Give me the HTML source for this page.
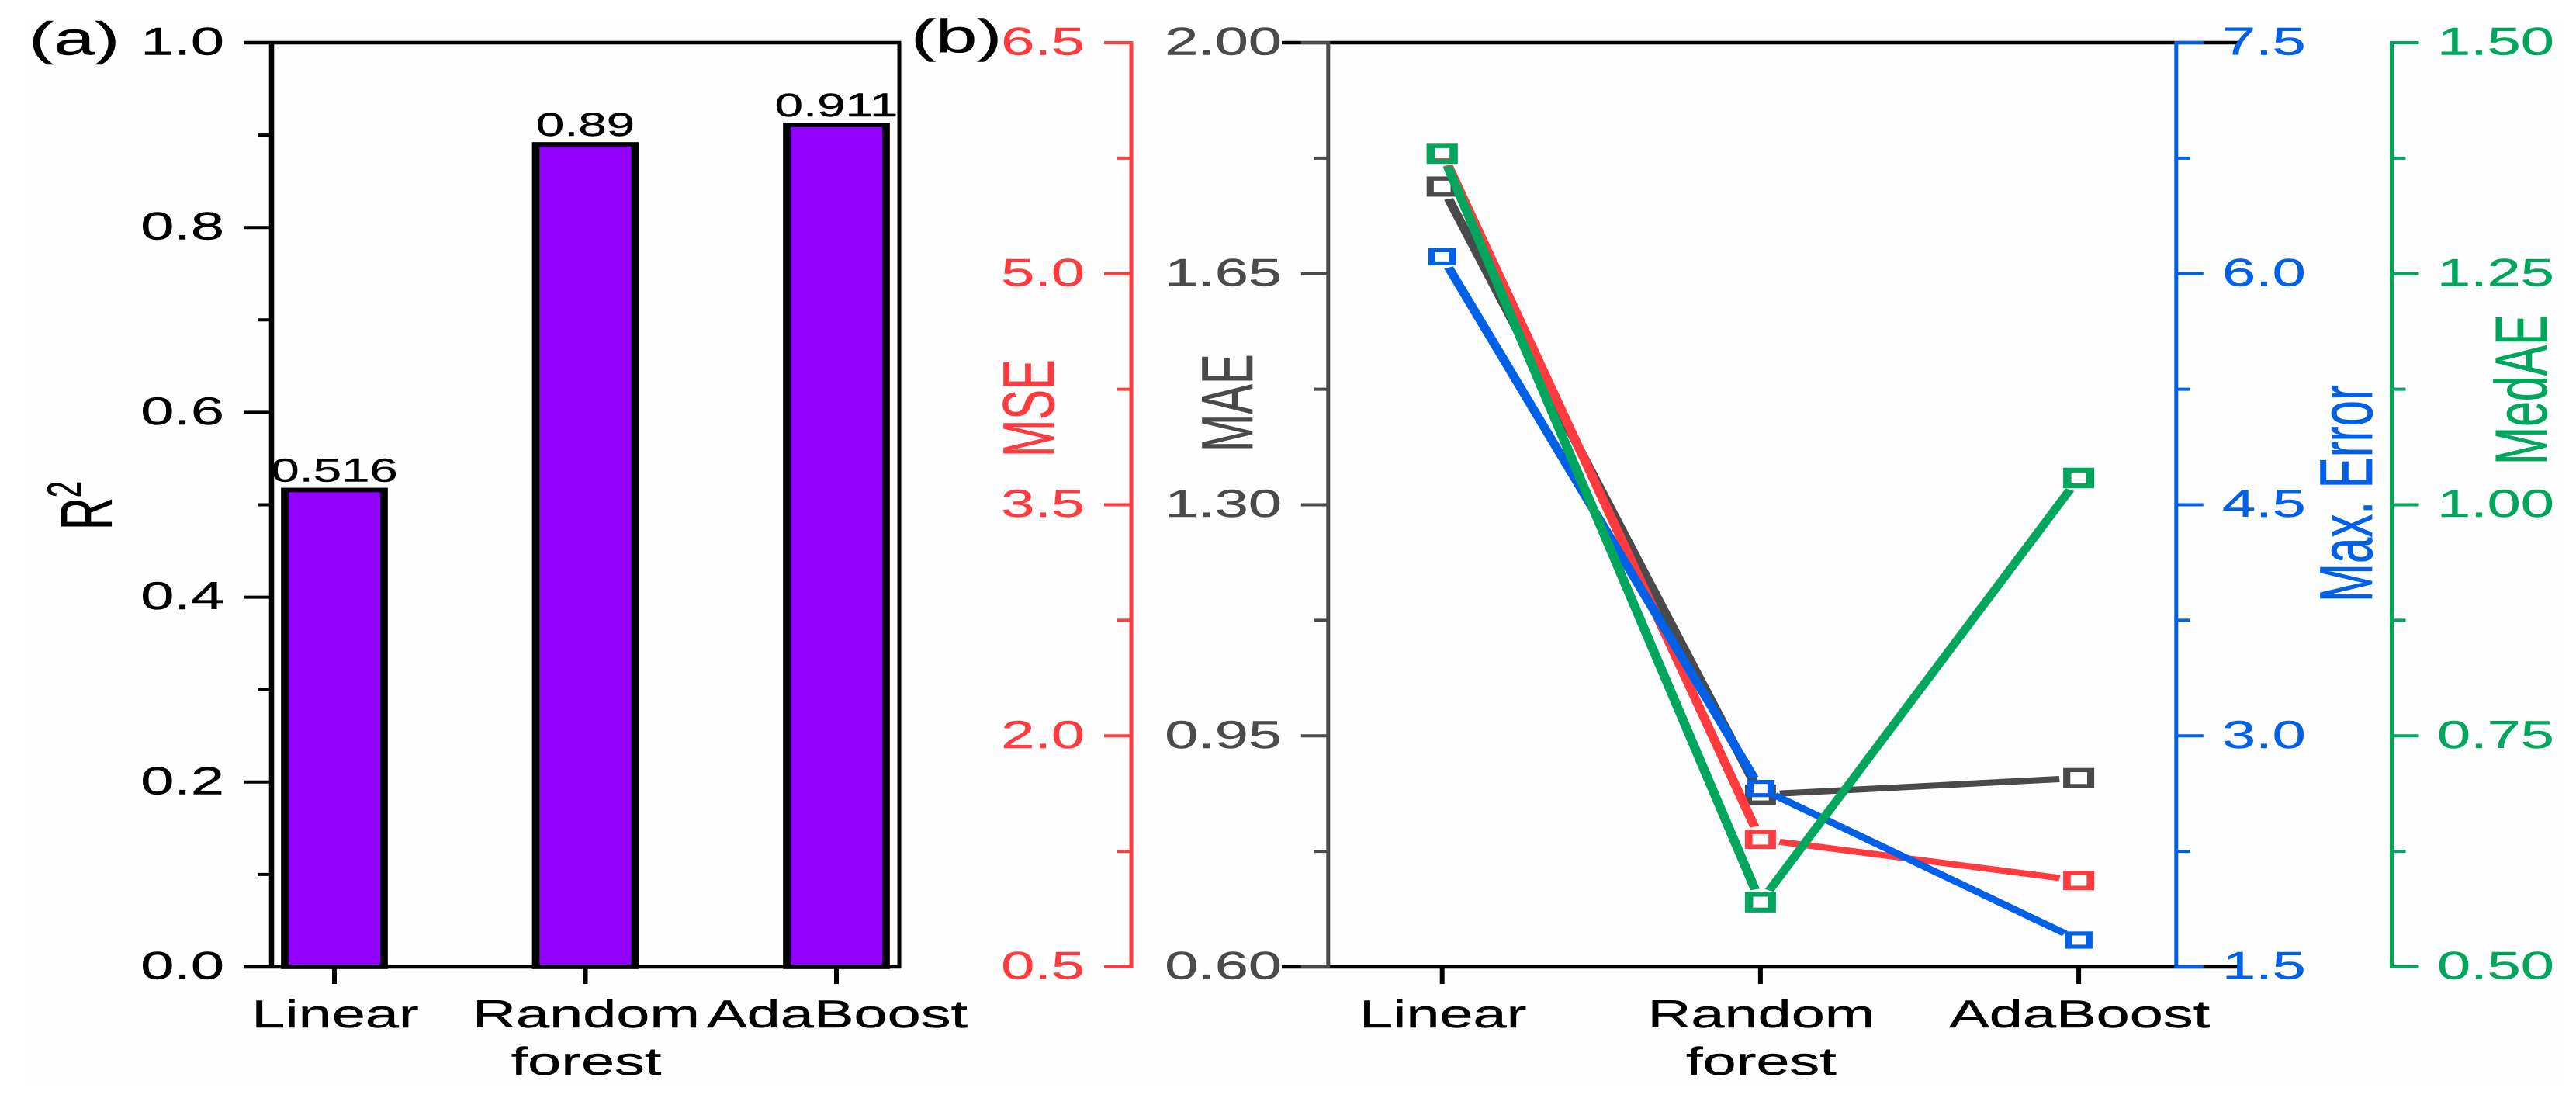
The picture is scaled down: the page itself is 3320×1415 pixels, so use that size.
<!DOCTYPE html>
<html lang="en">
<head>
<meta charset="utf-8">
<title>R2 and error metrics by model</title>
<style>
html,body{margin:0;padding:0;background:#fff;width:3320px;height:1415px;overflow:hidden}
svg{display:block}
text{font-family:"Liberation Sans",Arial,sans-serif}
</style>
</head>
<body>
<svg id="figure" xmlns="http://www.w3.org/2000/svg" width="3320" height="1415" viewBox="0 0 3320 1415">
  <rect x="0" y="0" width="3320" height="1415" fill="#ffffff"/>
  <rect x="38" y="23" width="3262" height="1377" fill="#fefefe"/>
  <g id="panel-a"></g>
  <g id="panel-b"></g>
  <text transform="translate(37,70.7) scale(1.6,1)" font-size="60" fill="#000" stroke="#000" stroke-width="0.4">(a)</text>
  <text transform="translate(1174,67) scale(1.6,1)" font-size="60" fill="#000" stroke="#000" stroke-width="0.4">(b)</text>
  <text transform="translate(144,683) scale(1.61,1) rotate(-90)" font-size="58" fill="#000" stroke="#000" stroke-width="0.4">R<tspan dy="-25" font-size="38">2</tspan></text>
  <text transform="translate(1358,589) scale(1.61,1) rotate(-90)" font-size="58" fill="#ff3b3f" stroke="#ff3b3f" stroke-width="0.4">MSE</text>
  <text transform="translate(1614,582) scale(1.61,1) rotate(-90)" font-size="58" fill="#4a4a4a" stroke="#4a4a4a" stroke-width="0.4">MAE</text>
  <text transform="translate(3057,776) scale(1.61,1) rotate(-90)" font-size="60" fill="#0061e8" stroke="#0061e8" stroke-width="0.4">Max. Error</text>
  <text transform="translate(3282,599) scale(1.61,1) rotate(-90)" font-size="59" fill="#00a65c" stroke="#00a65c" stroke-width="0.4">MedAE</text>
</svg>
<script>
// ---- data ----
const categoryLines = [['Linear'], ['Random', 'forest'], ['AdaBoost']];
const r2Values = [0.516, 0.89, 0.911];
const r2Ticks = ['0.0', '0.2', '0.4', '0.6', '0.8', '1.0'];
const mseValues = [5.786, 1.328, 1.061];
const maeValues = [1.782, 0.861, 0.886];
const maxErrorValues = [6.11, 2.658, 1.674];
const medaeValues = [1.38, 0.57, 1.029];
const mseTicks = ['0.5', '2.0', '3.5', '5.0', '6.5'];
const maeTicks = ['0.60', '0.95', '1.30', '1.65', '2.00'];
const maxErrorTicks = ['1.5', '3.0', '4.5', '6.0', '7.5'];
const medaeTicks = ['0.50', '0.75', '1.00', '1.25', '1.50'];

// ---- layout ----
const NS = 'http://www.w3.org/2000/svg';
const TOP = 55, BOTTOM = 1246, STRETCH = 1.7, LINE_STRETCH = 1.55;
const panelA = document.getElementById('panel-a');
const panelB = document.getElementById('panel-b');

function yScale(ticks) {
  const lo = parseFloat(ticks[0]), hi = parseFloat(ticks[ticks.length - 1]);
  return v => BOTTOM - (v - lo) / (hi - lo) * (BOTTOM - TOP);
}
function xA(i) { return 431 + 323.5 * i; }
function xB(i) { return 1858.7 + 410.2 * i; }

function make(parent, tag, attrs) {
  const el = document.createElementNS(NS, tag);
  for (const k in attrs) el.setAttribute(k, attrs[k]);
  parent.appendChild(el);
  return el;
}
function hLine(parent, x1, x2, y, color, w) {
  return make(parent, 'line', {x1: x1, x2: x2, y1: y, y2: y, stroke: color, 'stroke-width': w});
}
function vLine(parent, x, y1, y2, color, w) {
  return make(parent, 'line', {x1: x, x2: x, y1: y1, y2: y2, stroke: color, 'stroke-width': w});
}
function label(parent, x, y, str, size, sx, anchor, color) {
  const t = make(parent, 'text', {transform: 'translate(' + x + ',' + y + ') scale(' + sx + ',1)', 'font-size': size, 'text-anchor': anchor, fill: color, stroke: color, 'stroke-width': 0.4});
  t.textContent = str;
  return t;
}

// Value axis with major ticks, labels and midpoint minor ticks. dir=-1 ticks left, dir=1 ticks right.
function drawAxis(parent, prefix, ticks, axisX, dir, color, labelX, anchor, drawSpine) {
  const y = yScale(ticks);
  const g = make(parent, 'g', {});
  
  
  if (drawSpine) {
    const spine = vLine(g, axisX, TOP - 2, BOTTOM + 2, color, 5);
    
    
  }
  ticks.forEach((tick, i) => {
    const v = parseFloat(tick);
    const major = hLine(g, axisX, axisX + dir * 35, y(v), color, 4);
    
    
    const text = label(g, labelX, y(v) + 15.5, tick, 50, 1.55, anchor, color);
    
    
    if (i < ticks.length - 1) {
      const mid = (v + parseFloat(ticks[i + 1])) / 2;
      const minor = hLine(g, axisX, axisX + dir * 18, y(mid), color, 4);
      
      
    }
  });
}

function drawCategories(parent, xFn, prefix) {
  categoryLines.forEach((lines, i) => {
    const tick = vLine(parent, xFn(i), BOTTOM, 1268, '#000', 6);
    
    
    lines.forEach((line, j) => {
      const t = label(parent, xFn(i) + 1, 1324 + j * 61, line, 50, 1.55, 'middle', '#000');
      
      
    });
  });
}

// ---- panel (a) ----
(function () {
  const y = yScale(r2Ticks);
  const bars = make(panelA, 'g', {transform: 'scale(' + STRETCH + ',1)'});
  
  
  r2Values.forEach((v, i) => {
    const w = 128 / STRETCH;
    const cx = xA(i) / STRETCH;
    const bar = make(bars, 'rect', {x: cx - w / 2, y: y(v), width: w, height: BOTTOM - y(v), fill: '#9200ff', stroke: '#000', 'stroke-width': 5.7});
    
    
  });
  r2Values.forEach((v, i) => {
    const t = label(panelA, xA(i), y(v) - 11, String(v), 43, 1.52, 'middle', '#000');
    
    
  });
  const frame = make(panelA, 'g', {});
  
  
  const topLine = hLine(frame, 314, 1161, TOP, '#000', 4.5);
  
  
  const bottomLine = hLine(frame, 314, 1161, BOTTOM, '#000', 4.5);
  
  
  const leftLine = vLine(frame, 350, TOP - 2, BOTTOM + 2, '#000', 6.5);
  
  
  const rightLine = vLine(frame, 1159, TOP - 2, BOTTOM + 2, '#000', 5);
  
  
  drawAxis(panelA, 'r2', r2Ticks, 350, -1, '#000', 289, 'end', false);
  drawCategories(panelA, xA, 'panel-a');
})();

// ---- panel (b) ----
function drawSeries(name, values, ticks, color, markerW, markerH, sw, rx, ry, fill) {
  const y = yScale(ticks);
  const lineGroup = make(panelB, 'g', {transform: 'scale(' + LINE_STRETCH + ',1)'});
  
  
  for (let i = 0; i < values.length - 1; i++) {
    const x1 = xB(i), y1 = y(values[i]), x2 = xB(i + 1), y2 = y(values[i + 1]);
    const dx = x2 - x1, dy = y2 - y1;
    const t = 1 / Math.sqrt((dx / rx) * (dx / rx) + (dy / ry) * (dy / ry));
    const seg = make(lineGroup, 'line', {
      x1: (x1 + dx * t) / LINE_STRETCH, y1: y1 + dy * t,
      x2: (x2 - dx * t) / LINE_STRETCH, y2: y2 - dy * t,
      stroke: color, 'stroke-width': 8
    });
    
    
  }
  const markerGroup = make(panelB, 'g', {transform: 'scale(' + STRETCH + ',1)'});
  
  
  values.forEach((v, i) => {
    const w = (markerW - sw * STRETCH) / STRETCH, h = markerH - sw;
    const m = make(markerGroup, 'rect', {x: xB(i) / STRETCH - w / 2, y: y(v) - h / 2, width: w, height: h, fill: fill, stroke: color, 'stroke-width': sw});
    
    
  });
}

(function () {
  drawAxis(panelB, 'mse', mseTicks, 1458, -1, '#ff3b3f', 1398, 'end', true);
  const topLine = hLine(panelB, 1652, 2885, TOP, '#000', 4.5);
  
  
  const bottomLine = hLine(panelB, 1652, 2887, BOTTOM, '#000', 4.5);
  
  
  drawAxis(panelB, 'mae', maeTicks, 1711.8, -1, '#4a4a4a', 1652, 'end', true);
  drawAxis(panelB, 'max-error', maxErrorTicks, 2804.8, 1, '#0061e8', 2864, 'start', true);
  drawAxis(panelB, 'medae', medaeTicks, 3082.5, 1, '#00a65c', 3141, 'start', true);
  drawCategories(panelB, xB, 'panel-b');
  drawSeries('mae', maeValues, maeTicks, '#4a4a4a', 40, 26, 5.4, 25, 17, 'none');
  drawSeries('mse', mseValues, mseTicks, '#ff3b3f', 40, 25, 5.7, 25, 17, 'none');
  drawSeries('max-error', maxErrorValues, maxErrorTicks, '#0061e8', 35.6, 22.3, 5.2, 22, 15, '#fff');
  drawSeries('medae', medaeValues, medaeTicks, '#00a65c', 40, 26.5, 6.2, 25, 17, 'none');
})();
</script>
</body>
</html>
